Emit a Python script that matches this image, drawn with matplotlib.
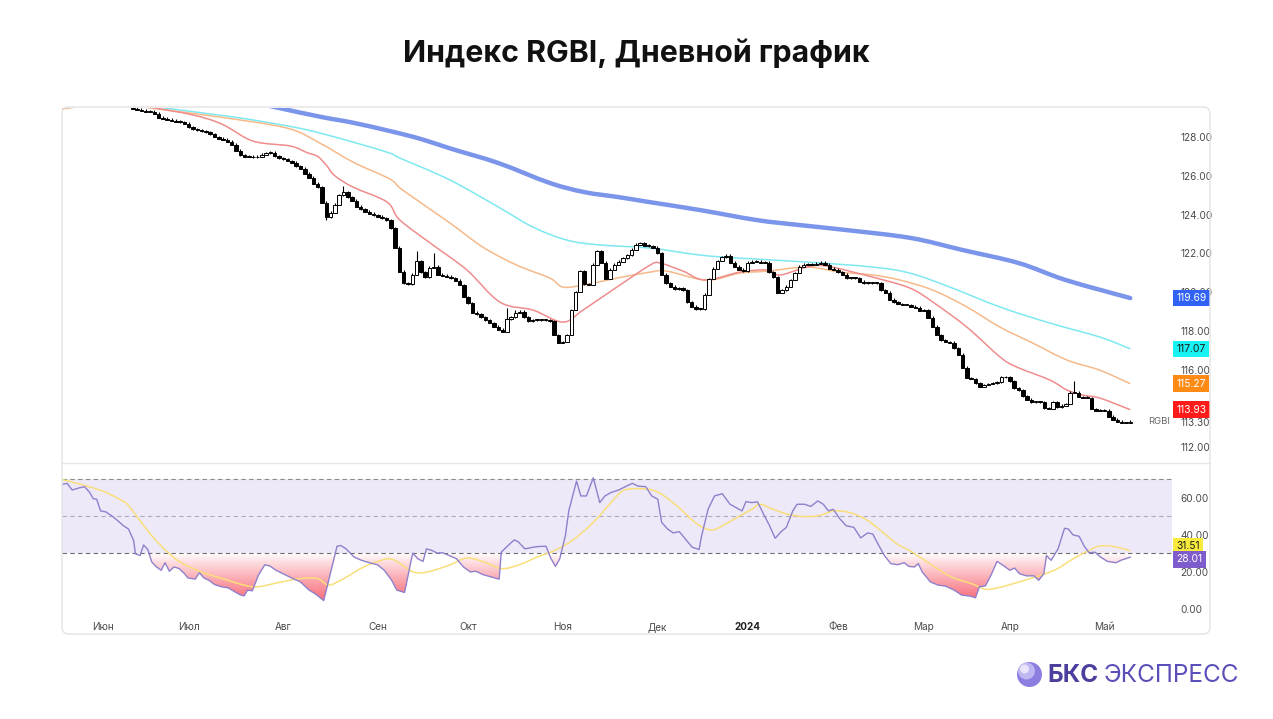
import numpy as np
import matplotlib.pyplot as plt
from matplotlib.patches import FancyBboxPatch, Circle, PathPatch
from matplotlib.lines import Line2D
from matplotlib.path import Path
from matplotlib.transforms import IdentityTransform, blended_transform_factory

plt.rcParams['font.family'] = ['Inter', 'DejaVu Sans']

# Data -----------------------------------------------------------------------

# daily closes of RGBI, trading-day index starting at first_day
first_day = 16
first_open = 129.50
closes = [
    129.45, 129.42, 129.35, 129.30, 129.30, 129.20, 129.00, 128.93, 128.90, 128.83,
    128.80, 128.77, 128.70, 128.50, 128.40, 128.35, 128.30, 128.25, 128.15, 128.00,
    127.90, 127.85, 127.75, 127.60, 127.30, 127.05, 126.97, 126.97, 126.95, 126.97,
    127.10, 127.17, 127.20, 127.00, 126.90, 126.85, 126.76, 126.66, 126.50, 126.35,
    126.10, 125.90, 125.60, 125.40, 124.60, 123.85, 124.10, 124.50, 125.00, 125.15,
    124.90, 124.70, 124.40, 124.28, 124.15, 124.05, 123.97, 123.90, 123.80, 123.70,
    123.30, 122.30, 121.05, 120.45, 120.40, 120.88, 121.60, 121.03, 120.77, 121.24,
    121.30, 120.88, 120.83, 120.78, 120.72, 120.57, 120.36, 119.74, 119.43, 118.92,
    118.86, 118.70, 118.55, 118.40, 118.20, 118.04, 117.94, 118.60, 118.70, 118.92,
    118.97, 118.70, 118.50, 118.55, 118.55, 118.55, 118.55, 118.50, 117.78, 117.37,
    117.42, 117.78, 119.07, 120.00, 121.08, 120.41, 120.36, 121.40, 122.10, 121.50,
    120.67, 121.14, 121.40, 121.55, 121.75, 121.90, 122.17, 122.45, 122.53, 122.40,
    122.37, 122.30, 122.00, 120.88, 120.46, 120.26, 120.15, 120.20, 120.10, 119.48,
    119.23, 119.12, 119.12, 119.85, 120.67, 121.19, 121.60, 121.80, 121.86, 121.50,
    121.30, 121.14, 121.08, 121.50, 121.55, 121.55, 121.50, 121.50, 121.03, 120.77,
    119.95, 120.10, 120.26, 120.62, 120.98, 121.30, 121.40, 121.40, 121.40, 121.45,
    121.50, 121.40, 121.19, 121.14, 121.03, 120.88, 120.72, 120.72, 120.72, 120.52,
    120.46, 120.46, 120.46, 120.46, 120.10, 119.95, 119.59, 119.48, 119.38, 119.33,
    119.33, 119.25, 119.20, 119.02, 119.07, 118.66, 118.20, 117.78, 117.52, 117.42,
    117.37, 117.10, 116.75, 116.08, 115.56, 115.51, 115.30, 115.10, 115.20, 115.25,
    115.30, 115.35, 115.60, 115.60, 115.40, 115.04, 114.94, 114.63, 114.43, 114.32,
    114.32, 114.32, 114.00, 113.96, 114.32, 114.06, 114.12, 114.22, 114.79, 114.79,
    114.58, 114.55, 114.53, 113.96, 113.86, 113.86, 113.86, 113.55, 113.40, 113.30,
    113.24, 113.24, 113.30,
]
# noticeable shadows (day -> price)
wick_highs = {65: 125.47, 82: 122.10, 86: 122.03, 103: 119.20, 105: 119.10, 235: 115.40}
wick_lows = {61: 123.70}

# moving averages, read as (day, value) points
ma_blue_day = [44, 50, 60, 67, 76, 83, 90, 101, 113, 121, 129, 136, 148, 161, 171, 182, 197, 209, 222, 233, 248]
ma_blue_val = [129.80, 129.50, 129.03, 128.75, 128.30, 127.90, 127.40, 126.66, 125.63, 125.16, 124.90,
               124.65, 124.23, 123.72, 123.46, 123.20, 122.79, 122.17, 121.50, 120.62, 119.69]

ma_cyan_day = [18, 23.5, 37.9, 44, 53.3, 59.5, 68.8, 75.8, 78.1, 89.8, 101.4, 109.1, 117, 124.7, 136.3,
               147.9, 157.2, 172.8, 188.1, 196.7, 206, 217.7, 229.3, 240.9, 248]
ma_cyan_val = [129.70, 129.50, 129.08, 128.88, 128.52, 128.21, 127.64, 127.17, 126.92, 125.78, 124.34,
               123.35, 122.68, 122.43, 122.27, 121.91, 121.75, 121.55, 121.29, 120.98, 120.26, 119.23,
               118.40, 117.68, 117.07]

ma_orange_day = [-0.5, 4.9, 11.9, 20, 36.3, 51.9, 59.5, 67.2, 75.8, 78.8, 89.8, 97.4, 105.3, 113, 116,
                 120.7, 128.6, 136.3, 140.2, 149.5, 157.2, 163.5, 172.8, 180.5, 188.1, 194.4, 202.1,
                 210, 217.7, 225.3, 233.3, 240.9, 248]
ma_orange_val = [129.45, 129.60, 129.75, 129.50, 129.03, 128.46, 127.69, 126.71, 125.83, 125.26, 123.56,
                 122.32, 121.39, 120.72, 120.26, 120.36, 120.72, 121.03, 121.08, 120.62, 120.98, 121.08,
                 121.29, 121.03, 120.88, 120.62, 120.10, 119.23, 118.19, 117.37, 116.49, 115.97, 115.27]

ma_red_day = [16, 20, 30, 36.7, 44, 52.6, 56.5, 59, 61, 63, 67.2, 75.1, 78.1, 85.8, 93.7, 101.4, 109.1,
              116, 120.7, 128.6, 136.3, 138.6, 144, 149.1, 157.2, 163.5, 166.5, 172.8, 177.4, 188.1,
              196.7, 202.1, 210, 217.7, 221.6, 229.3, 233.3, 237, 240.9, 248]
ma_red_val = [129.75, 129.55, 129.14, 128.67, 127.79, 127.54, 127.20, 127.00, 126.55, 126.00, 125.42,
              124.65, 123.72, 122.43, 121.14, 119.48, 119.07, 118.45, 119.07, 120.26, 121.39, 121.50,
              121.08, 120.62, 121.03, 121.14, 120.88, 121.29, 121.34, 120.77, 120.21, 119.48, 118.19,
              116.65, 116.13, 115.46, 114.94, 114.68, 114.53, 113.93]

# RSI and its signal line, read as (day, value) points
rsi_day = [-0.5, 0.7, 1.9, 3.6, 4.8, 6.0, 6.8, 7.6, 8.5, 9.7, 11.3, 12.5, 13.8, 15.0, 16.2, 16.6, 17.7,
           18.5, 19.5, 20.4, 21.5, 22.6, 23.5, 24.5, 25.6, 26.8, 28.0, 28.8, 30.5, 31.5, 32.5, 33.7,
           35.0, 36.6, 38.2, 39.5, 41.1, 41.9, 42.7, 43.8, 45.2, 46.7, 47.9, 49.3, 50.9, 52.9, 55.0,
           57.0, 58.6, 60.4, 63.5, 64.4, 65.6, 67.5, 69.2, 71.3, 72.9, 74.5, 76.2, 77.4, 79.2, 81.1,
           82.3, 83.5, 84.3, 85.6, 86.8, 88.0, 89.6, 91.3, 92.9, 94.5, 95.8, 97.4, 99.4, 101.2, 101.7,
           103.1, 104.7, 105.6, 107.2, 109.2, 110.5, 112.1, 113.2, 114.3, 115.3, 116.6, 117.4, 119.2,
           120.2, 121.5, 123.1, 124.6, 125.8, 127.2, 129.0, 130.8, 132.2, 133.5, 135.3, 136.7, 138.1,
           139.0, 140.4, 141.7, 143.1, 144.5, 146.1, 147.7, 148.3, 149.8, 151.3, 153.1, 154.9, 156.3,
           157.7, 158.6, 160.0, 161.3, 162.7, 164.1, 165.4, 166.8, 168.0, 169.5, 170.5, 172.3, 173.7,
           175.3, 176.6, 177.8, 178.9, 180.5, 181.9, 183.7, 185.3, 186.9, 188.1, 189.3, 190.8, 192.3,
           193.9, 195.4, 196.5, 197.8, 198.7, 199.6, 201.5, 203.3, 205.1, 207.0, 208.8, 210.6, 212.0,
           212.9, 214.3, 215.6, 217.0, 218.4, 220.0, 221.1, 222.2, 223.8, 225.6, 226.7, 227.9, 228.5,
           229.6, 231.2, 232.7, 233.6, 234.7, 236.1, 237.3, 238.4, 239.8, 241.1, 242.7, 244.7, 245.8,
           248.0]
rsi_val = [67.3, 67.9, 64.3, 65.5, 66.1, 62.9, 59.6, 59.3, 53.0, 52.5, 50.0, 47.7, 45.0, 43.2, 37.0,
           29.8, 28.9, 34.6, 32.1, 25.4, 22.7, 20.9, 25.0, 20.4, 22.7, 21.8, 19.1, 16.8, 16.1, 19.6,
           16.8, 15.5, 13.2, 12.0, 11.4, 9.6, 7.5, 7.1, 10.2, 9.8, 18.2, 23.9, 23.2, 20.9, 19.1, 16.8,
           14.6, 10.2, 7.9, 4.5, 33.9, 34.3, 32.5, 28.0, 26.3, 24.8, 23.9, 20.9, 15.5, 10.2, 8.9, 30.2,
           27.1, 25.7, 32.5, 31.6, 30.2, 30.4, 28.9, 27.1, 22.7, 20.0, 20.4, 18.6, 17.3, 16.1, 30.7,
           33.9, 37.3, 36.4, 32.5, 33.4, 33.8, 33.9, 27.5, 23.0, 27.1, 39.6, 53.0, 69.1, 61.1, 61.1,
           70.9, 57.5, 61.1, 62.9, 64.3, 66.4, 67.9, 66.4, 66.1, 61.1, 59.3, 46.8, 43.2, 41.1, 41.8,
           37.9, 33.4, 32.1, 39.6, 53.9, 61.1, 62.3, 56.6, 54.8, 53.0, 58.0, 57.5, 57.9, 51.3, 45.0,
           38.2, 41.8, 44.1, 53.0, 56.6, 56.6, 55.4, 58.4, 56.6, 53.0, 53.9, 48.6, 45.0, 44.1, 38.4,
           41.1, 40.5, 35.2, 28.9, 24.5, 23.9, 25.0, 23.0, 22.7, 24.5, 20.0, 14.6, 12.9, 12.3, 10.2,
           7.5, 7.0, 6.1, 12.0, 12.5, 18.2, 25.7, 23.6, 20.9, 22.1, 19.1, 17.9, 17.9, 15.5, 19.1,
           28.9, 26.3, 32.5, 43.6, 43.2, 40.0, 39.3, 33.9, 30.4, 30.7, 28.0, 25.7, 25.0, 26.3, 28.01]

sig_day = [-0.5, 4.0, 8.9, 12.2, 14.7, 17.1, 20.4, 23.7, 27.0, 31.9, 36.9, 41.8, 45.1, 50.0, 54.9,
           59.0, 61.5, 64.8, 69.7, 73.8, 75.9, 77.9, 81.2, 84.5, 89.5, 93.6, 97.7, 101.8, 105.9, 110.0,
           114.1, 118.2, 122.3, 125.0, 127.2, 129.9, 132.6, 136.3, 139.0, 142.6, 146.3, 149.0, 151.3,
           154.5, 157.2, 160.0, 161.8, 164.5, 168.2, 171.8, 175.5, 179.1, 182.7, 186.4, 190.0, 193.7,
           197.3, 201.9, 206.4, 211.0, 214.2, 216.5, 220.1, 224.7, 228.3, 231.1, 234.7, 238.4, 240.6,
           243.8, 248.0]
sig_val = [70.0, 67.3, 63.8, 60.2, 56.6, 49.5, 39.6, 31.6, 25.4, 20.0, 16.4, 12.9, 12.0, 14.3, 16.4,
           16.4, 12.9, 16.1, 22.7, 26.3, 27.1, 25.0, 20.0, 20.0, 23.6, 27.5, 25.4, 21.8, 23.9, 28.0,
           31.6, 37.0, 45.0, 51.5, 57.5, 63.8, 65.0, 64.6, 62.0, 55.7, 47.7, 43.6, 42.9, 46.8, 50.4,
           53.9, 56.6, 54.3, 51.3, 50.0, 50.4, 53.0, 52.1, 48.6, 42.3, 35.2, 30.7, 23.6, 17.3, 13.75,
           10.7, 11.1, 13.2, 16.4, 19.1, 21.8, 27.1, 31.6, 33.9, 33.9, 31.51]

month_days = [9, 29, 51, 73, 94, 116, 138, 159, 180, 200, 220, 242]
month_labels = ['Июн', 'Июл', 'Авг', 'Сен', 'Окт', 'Ноя', 'Дек', '2024', 'Фев', 'Мар', 'Апр', 'Май']

price_ticks = [112, 116, 118, 120, 122, 124, 126, 128]
rsi_ticks = [0, 20, 40, 60]

# Helpers ----------------------------------------------------------------------

W, H = 1273, 719


def px_rect(x0, y0, x1, y1):
    return [x0 / W, 1 - y1 / H, (x1 - x0) / W, (y1 - y0) / H]


def smooth_line(ax, xs, ys, **kw):
    # curve through the read points (Catmull-Rom drawn as cubic Beziers)
    pts = np.column_stack([xs, ys]).astype(float)
    n = len(pts)
    verts, codes = [pts[0]], [Path.MOVETO]
    for i in range(n - 1):
        p0, p1 = pts[max(i - 1, 0)], pts[i]
        p2, p3 = pts[i + 1], pts[min(i + 2, n - 1)]
        verts += [p1 + (p2 - p0) / 6, p2 - (p3 - p1) / 6, p2]
        codes += [Path.CURVE4] * 3
    ax.add_patch(PathPatch(Path(verts, codes), fc='none', **kw))


# Layout -----------------------------------------------------------------------

fig = plt.figure(figsize=(W / 100, H / 100), dpi=100)
fig.patch.set_facecolor('white')

X0, X1 = -0.47, 257.7
ax = fig.add_axes(px_rect(62, 108, 1172, 462))
ax2 = fig.add_axes(px_rect(62, 463, 1172, 633))

card = FancyBboxPatch((62, H - 634), 1148, 527, boxstyle='round,pad=0,rounding_size=7',
                      transform=IdentityTransform(), fc='none', ec='#e3e3e3', lw=1.0, zorder=0)
fig.patches.append(card)
fig.lines.append(Line2D([62 / W, 1210 / W], [1 - 462.5 / H] * 2, transform=fig.transFigure,
                        color='#e6e6e6', lw=1.0))

for a in (ax, ax2):
    a.set_xlim(X0, X1)
    for s in a.spines.values():
        s.set_visible(False)
    a.set_facecolor('none')
    a.yaxis.tick_right()
    a.tick_params(axis='y', length=0, pad=6, labelsize=7.2, labelcolor='#4a4a4a')

# Candles --------------------------------------------------------------------

closes = np.array(closes)
days = np.arange(first_day, first_day + len(closes))
opens = np.r_[first_open, closes[:-1]]
up = closes >= opens
tops = np.maximum(opens, closes)
bots = np.minimum(opens, closes)
highs = np.array([wick_highs.get(d, t + 0.08) for d, t in zip(days, tops)])
lows = np.array([wick_lows.get(d, b - 0.02) for d, b in zip(days, bots)])

ax.vlines(days, lows, highs, color='black', lw=0.8, zorder=3)
heights = np.maximum(tops - bots, 0.035)
ax.bar(days[up], heights[up], bottom=bots[up], width=0.8, color='white',
       edgecolor='black', linewidth=0.7, zorder=4)
ax.bar(days[~up], heights[~up], bottom=bots[~up], width=0.8, color='black',
       edgecolor='black', linewidth=0.7, zorder=4)

smooth_line(ax, ma_blue_day, ma_blue_val, ec='#7b95ea', lw=3.2, capstyle='round', zorder=2)
smooth_line(ax, ma_cyan_day, ma_cyan_val, ec='#7ee8f0', lw=1.1, zorder=2)
smooth_line(ax, ma_orange_day, ma_orange_val, ec='#f6b98a', lw=1.1, zorder=2)
smooth_line(ax, ma_red_day, ma_red_val, ec='#ef8c8c', lw=1.1, zorder=2)

ax.set_ylim(111.23, 129.5)
ax.set_yticks(price_ticks + [closes[-1]])
ax.set_yticklabels([f'{v:.2f}' for v in price_ticks + [closes[-1]]])
ax.set_xticks([])
ax.text(1170, closes[-1], 'RGBI', transform=blended_transform_factory(IdentityTransform(), ax.transData),
        ha='right', va='center', fontsize=6.8, color='#666666')

trans = blended_transform_factory(ax.transAxes, ax.transData)
badges = [(ma_blue_val[-1], '#2f62f5', 'white'), (ma_cyan_val[-1], '#19f2f2', '#1a1a1a'),
          (ma_orange_val[-1], '#ff8a14', 'white'), (ma_red_val[-1], '#ff1a1a', 'white')]
for val, fc, tc in badges:
    ax.annotate(f'{val:.2f}', (1.0, val), xycoords=trans, xytext=(3.2, 0), textcoords='offset points',
                ha='left', va='center', fontsize=7.4, color=tc, annotation_clip=False, zorder=10,
                bbox=dict(boxstyle='square,pad=0.32', fc=fc, ec='none'))

# RSI panel --------------------------------------------------------------------

ax2.set_ylim(-13, 78.9)
ax2.axhspan(30, 70, color='#ede9f8', lw=0, zorder=0)
for lvl, col in ((70, '#8a8a8a'), (50, '#b0acc0'), (30, '#6e6e6e')):
    ax2.axhline(lvl, color=col, lw=0.8, ls=(0, (4, 3)), zorder=1)

rsi_day_a = np.array(rsi_day)
rsi_val_a = np.array(rsi_val)
poly = ax2.fill_between(rsi_day_a, rsi_val_a, 30, where=rsi_val_a < 30, interpolate=True,
                        color='none', lw=0)
grad = np.zeros((256, 2, 4))
levels = np.linspace(0, 30, 256)
grad[..., 0] = 0.97
grad[..., 1] = 0.36
grad[..., 2] = 0.42
grad[..., 3] = (np.clip((30 - levels) / 26, 0, 1) ** 0.9 * 0.92)[:, None]
im = ax2.imshow(grad, extent=[X0, X1, 0, 30], origin='lower', aspect='auto', zorder=1.5,
                interpolation='bilinear')
clip = Path.make_compound_path(*poly.get_paths())
im.set_clip_path(clip, ax2.transData)

smooth_line(ax2, sig_day, sig_val, ec='#f9de7a', lw=1.1, zorder=2)
ax2.plot(rsi_day, rsi_val, color='#8f80cc', lw=1.0, zorder=3)

ax2.set_yticks(rsi_ticks)
ax2.set_yticklabels([f'{v:.2f}' for v in rsi_ticks])
ax2.set_xticks(month_days)
ax2.set_xticklabels(month_labels)
ax2.tick_params(axis='x', length=0, pad=-8, labelsize=7.2, labelcolor='#4a4a4a')
for lab in ax2.get_xticklabels():
    if lab.get_text() == '2024':
        lab.set_fontweight('bold')
        lab.set_color('#222222')

trans2 = blended_transform_factory(ax2.transAxes, ax2.transData)
for val, fc, tc, dy in ((sig_val[-1], '#f7ea3a', '#1a1a1a', 3.5), (rsi_val[-1], '#7e5ccc', 'white', -1.5)):
    ax2.annotate(f'{val:.2f}', (1.0, val), xycoords=trans2, xytext=(3.2, dy), textcoords='offset points',
                 ha='left', va='center', fontsize=7.4, color=tc, annotation_clip=False, zorder=10,
                 bbox=dict(boxstyle='square,pad=0.32', fc=fc, ec='none'))

# Title and logo -----------------------------------------------------------------

fig.text(0.5, 1 - 53 / H, 'Индекс RGBI, Дневной график', ha='center', va='center',
         fontsize=21.8, fontweight='bold', color='#111111')

fig.patches.append(Circle((1029.5, H - 674.5), 12.5, transform=IdentityTransform(),
                          fc='#8a7ee0', ec='none'))
fig.patches.append(Circle((1026.5, H - 671), 8.5, transform=IdentityTransform(),
                          fc='#c4bdf4', ec='none', alpha=0.9))
fig.patches.append(Circle((1024.5, H - 669), 4.5, transform=IdentityTransform(),
                          fc='#eeeafc', ec='none', alpha=0.9))
fig.text(1047 / W, 1 - 675 / H, 'БКС', ha='left', va='center', fontsize=17.5,
         fontweight='bold', color='#4b3f9e')
fig.text(1104 / W, 1 - 675 / H, 'ЭКСПРЕСС', ha='left', va='center', fontsize=17.5,
         fontweight='normal', color='#5a4fb8')

fig.savefig('out.png', dpi=100, facecolor='white')
